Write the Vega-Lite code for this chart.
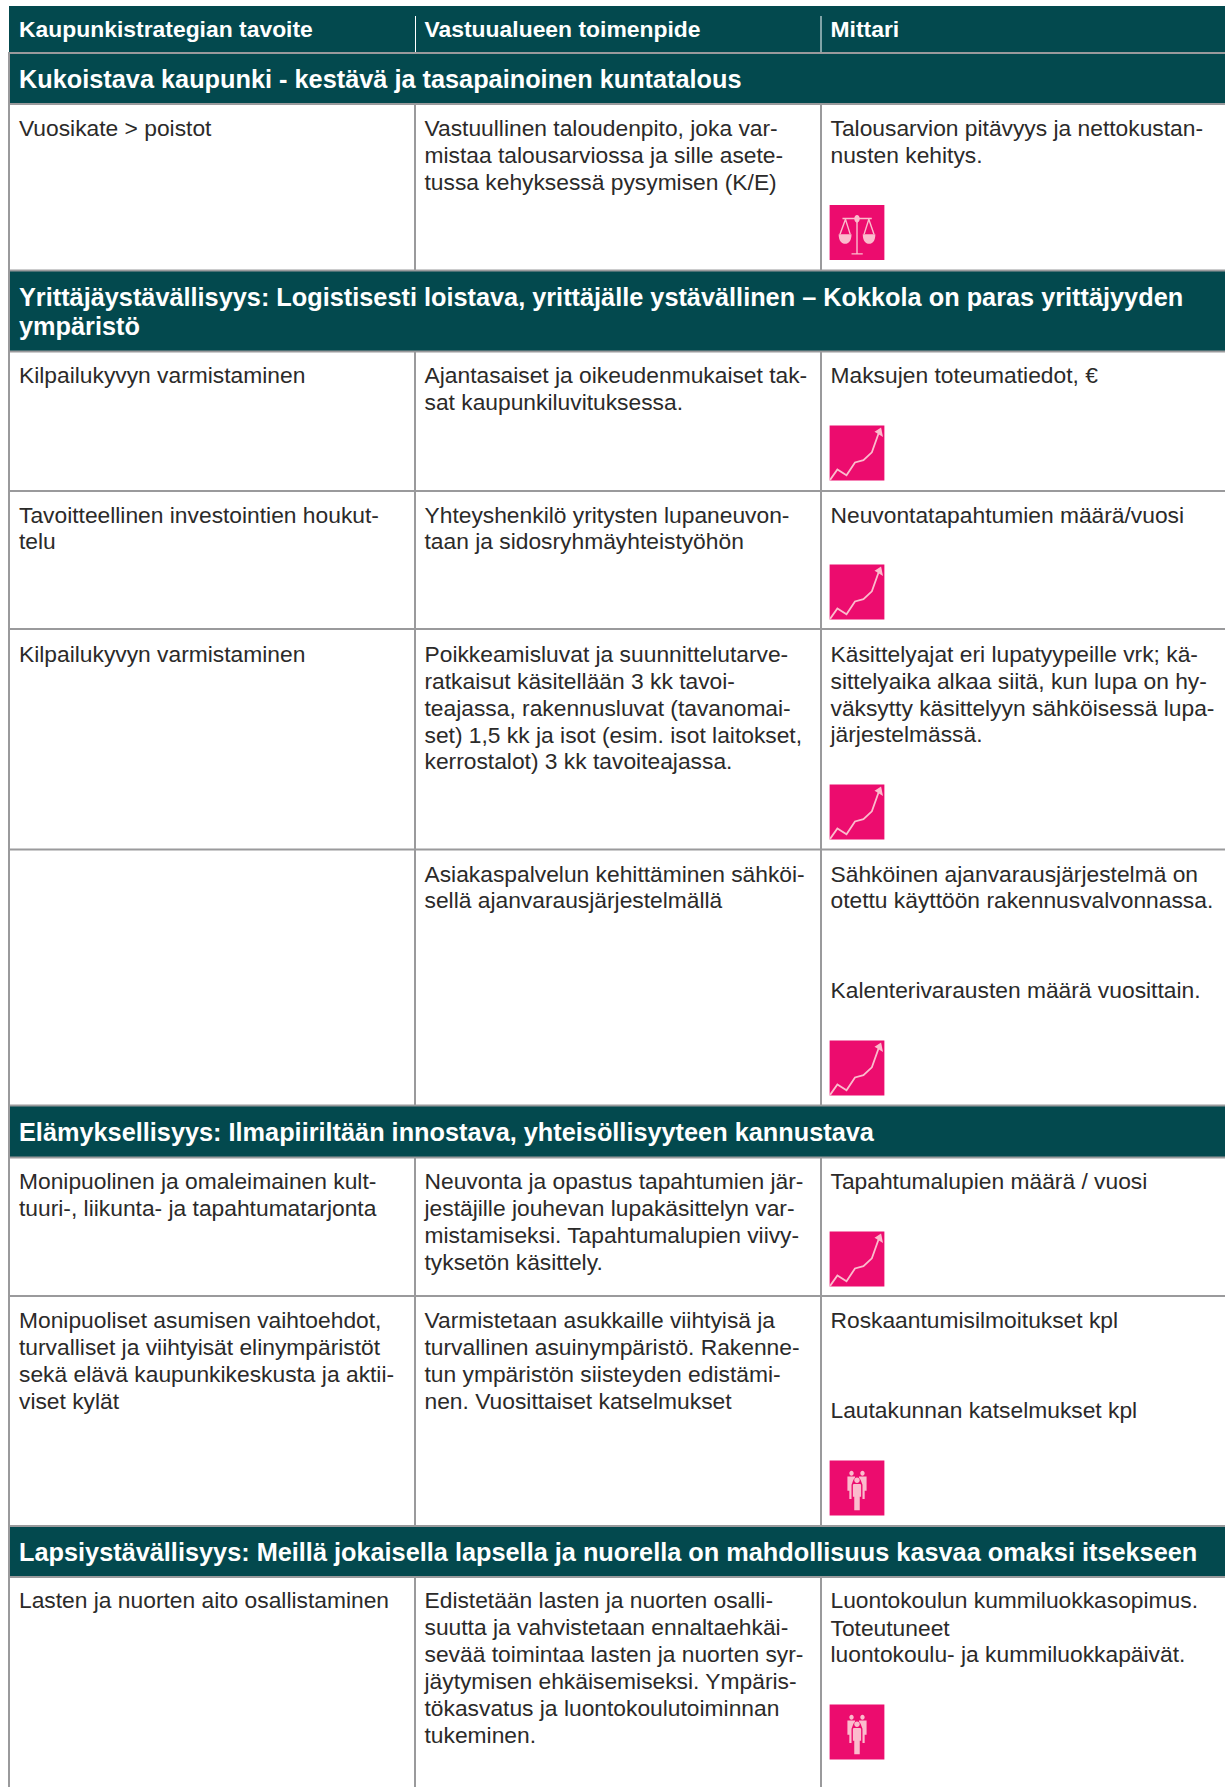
{"$schema":"https://vega.github.io/schema/vega-lite/v6.json","width":1225,"height":1787,"autosize":{"type":"fit","contains":"padding"},"padding":0,"background":"#ffffff","config":{"view":{"stroke":null}},
"datasets":{
"bands":[{"x":9,"x2":1225,"y":6,"y2":52},{"x":9,"x2":1225,"y":53,"y2":104},{"x":9,"x2":1225,"y":271,"y2":351},{"x":9,"x2":1225,"y":1106,"y2":1157},{"x":9,"x2":1225,"y":1526,"y2":1577}],
"gridlines":[{"x":9,"x2":9,"y":52,"y2":1787},{"x":415,"x2":415,"y":104,"y2":271},{"x":821,"x2":821,"y":104,"y2":271},{"x":415,"x2":415,"y":351,"y2":1105},{"x":821,"x2":821,"y":351,"y2":1105},{"x":415,"x2":415,"y":1157,"y2":1526},{"x":821,"x2":821,"y":1157,"y2":1526},{"x":415,"x2":415,"y":1577,"y2":1787},{"x":821,"x2":821,"y":1577,"y2":1787},
{"x":8,"x2":1225,"y":53,"y2":53},{"x":8,"x2":1225,"y":104,"y2":104},{"x":8,"x2":1225,"y":270.5,"y2":270.5},{"x":8,"x2":1225,"y":351.5,"y2":351.5},{"x":8,"x2":1225,"y":491,"y2":491},{"x":8,"x2":1225,"y":629,"y2":629},{"x":8,"x2":1225,"y":849.5,"y2":849.5},{"x":8,"x2":1225,"y":1105.5,"y2":1105.5},{"x":8,"x2":1225,"y":1157.5,"y2":1157.5},{"x":8,"x2":1225,"y":1296,"y2":1296},{"x":8,"x2":1225,"y":1526,"y2":1526},{"x":8,"x2":1225,"y":1577,"y2":1577}],
"headerlines":[{"x":415.5,"x2":415.5,"y":16,"y2":52},{"x":821,"x2":821,"y":16,"y2":52}],
"heads":[{"x":19,"y":37,"t":"Kaupunkistrategian tavoite"},{"x":424.5,"y":37,"t":"Vastuualueen toimenpide"},{"x":830.5,"y":37,"t":"Mittari"}],
"bandtitles":[{"x":19,"y":88,"t":"Kukoistava kaupunki - kestävä ja tasapainoinen kuntatalous"},{"x":19,"y":306,"t":"Yrittäjäystävällisyys: Logistisesti loistava, yrittäjälle ystävällinen – Kokkola on paras yrittäjyyden"},{"x":19,"y":335,"t":"ympäristö"},{"x":19,"y":1141,"t":"Elämyksellisyys: Ilmapiiriltään innostava, yhteisöllisyyteen kannustava"},{"x":19,"y":1561,"t":"Lapsiystävällisyys: Meillä jokaisella lapsella ja nuorella on mahdollisuus kasvaa omaksi itsekseen"}],
"cells":[
{"x":19,"y":137,"t":"Vuosikate > poistot"},
{"x":424.5,"y":137,"t":"Vastuullinen taloudenpito, joka var-"},{"x":424.5,"y":164,"t":"mistaa talousarviossa ja sille asete-"},{"x":424.5,"y":191,"t":"tussa kehyksessä pysymisen (K/E)"},
{"x":830.5,"y":137,"t":"Talousarvion pitävyys ja nettokustan-"},{"x":830.5,"y":164,"t":"nusten kehitys."},
{"x":19,"y":384,"t":"Kilpailukyvyn varmistaminen"},
{"x":424.5,"y":384,"t":"Ajantasaiset ja oikeudenmukaiset tak-"},{"x":424.5,"y":411,"t":"sat kaupunkiluvituksessa."},
{"x":830.5,"y":384,"t":"Maksujen toteumatiedot, €"},
{"x":19,"y":524,"t":"Tavoitteellinen investointien houkut-"},{"x":19,"y":550,"t":"telu"},
{"x":424.5,"y":524,"t":"Yhteyshenkilö yritysten lupaneuvon-"},{"x":424.5,"y":550,"t":"taan ja sidosryhmäyhteistyöhön"},
{"x":830.5,"y":524,"t":"Neuvontatapahtumien määrä/vuosi"},
{"x":19,"y":663,"t":"Kilpailukyvyn varmistaminen"},
{"x":424.5,"y":663,"t":"Poikkeamisluvat ja suunnittelutarve-"},{"x":424.5,"y":690,"t":"ratkaisut käsitellään 3 kk tavoi-"},{"x":424.5,"y":717,"t":"teajassa, rakennusluvat (tavanomai-"},{"x":424.5,"y":744,"t":"set) 1,5 kk ja isot (esim. isot laitokset,"},{"x":424.5,"y":770,"t":"kerrostalot) 3 kk tavoiteajassa."},
{"x":830.5,"y":663,"t":"Käsittelyajat eri lupatyypeille vrk; kä-"},{"x":830.5,"y":690,"t":"sittelyaika alkaa siitä, kun lupa on hy-"},{"x":830.5,"y":717,"t":"väksytty käsittelyyn sähköisessä lupa-"},{"x":830.5,"y":743,"t":"järjestelmässä."},
{"x":424.5,"y":883,"t":"Asiakaspalvelun kehittäminen sähköi-"},{"x":424.5,"y":909,"t":"sellä ajanvarausjärjestelmällä"},
{"x":830.5,"y":883,"t":"Sähköinen ajanvarausjärjestelmä on"},{"x":830.5,"y":909,"t":"otettu käyttöön rakennusvalvonnassa."},{"x":830.5,"y":999,"t":"Kalenterivarausten määrä vuosittain."},
{"x":19,"y":1190,"t":"Monipuolinen ja omaleimainen kult-"},{"x":19,"y":1217,"t":"tuuri-, liikunta- ja tapahtumatarjonta"},
{"x":424.5,"y":1190,"t":"Neuvonta ja opastus tapahtumien jär-"},{"x":424.5,"y":1217,"t":"jestäjille jouhevan lupakäsittelyn var-"},{"x":424.5,"y":1244,"t":"mistamiseksi. Tapahtumalupien viivy-"},{"x":424.5,"y":1271,"t":"tyksetön käsittely."},
{"x":830.5,"y":1190,"t":"Tapahtumalupien määrä / vuosi"},
{"x":19,"y":1329,"t":"Monipuoliset asumisen vaihtoehdot,"},{"x":19,"y":1356,"t":"turvalliset ja viihtyisät elinympäristöt"},{"x":19,"y":1383,"t":"sekä elävä kaupunkikeskusta ja aktii-"},{"x":19,"y":1410,"t":"viset kylät"},
{"x":424.5,"y":1329,"t":"Varmistetaan asukkaille viihtyisä ja"},{"x":424.5,"y":1356,"t":"turvallinen asuinympäristö. Rakenne-"},{"x":424.5,"y":1383,"t":"tun ympäristön siisteyden edistämi-"},{"x":424.5,"y":1410,"t":"nen. Vuosittaiset katselmukset"},
{"x":830.5,"y":1329,"t":"Roskaantumisilmoitukset kpl"},{"x":830.5,"y":1419,"t":"Lautakunnan katselmukset kpl"},
{"x":19,"y":1609,"t":"Lasten ja nuorten aito osallistaminen"},
{"x":424.5,"y":1609,"t":"Edistetään lasten ja nuorten osalli-"},{"x":424.5,"y":1636,"t":"suutta ja vahvistetaan ennaltaehkäi-"},{"x":424.5,"y":1663,"t":"sevää toimintaa lasten ja nuorten syr-"},{"x":424.5,"y":1690,"t":"jäytymisen ehkäisemiseksi. Ympäris-"},{"x":424.5,"y":1717,"t":"tökasvatus ja luontokoulutoiminnan"},{"x":424.5,"y":1744,"t":"tukeminen."},
{"x":830.5,"y":1609,"t":"Luontokoulun kummiluokkasopimus."},{"x":830.5,"y":1637,"t":"Toteutuneet"},{"x":830.5,"y":1663,"t":"luontokoulu- ja kummiluokkapäivät."}],
"icons":[{"x":857,"y":232.5,"k":"vaaka"},{"x":857,"y":453,"k":"kayra"},{"x":857,"y":592,"k":"kayra"},{"x":857,"y":812,"k":"kayra"},{"x":857,"y":1068,"k":"kayra"},{"x":857,"y":1259,"k":"kayra"},{"x":857,"y":1488,"k":"ihmiset"},{"x":857,"y":1732,"k":"ihmiset"}]
},
"layer":[
{"data":{"name":"bands"},"mark":{"type":"rect","color":"#03494e"},"encoding":{"x":{"field":"x","type":"quantitative","scale":{"domain":[0,1225],"range":[0,1225],"nice":false,"zero":false},"axis":null},"x2":{"field":"x2"},"y":{"field":"y","type":"quantitative","scale":{"domain":[0,1787],"range":[0,1787],"nice":false,"zero":false},"axis":null},"y2":{"field":"y2"}}},
{"data":{"name":"gridlines"},"mark":{"type":"rule","color":"#9a9a9c","strokeWidth":2},"encoding":{"x":{"field":"x","type":"quantitative"},"x2":{"field":"x2"},"y":{"field":"y","type":"quantitative"},"y2":{"field":"y2"}}},
{"data":{"name":"headerlines"},"mark":{"type":"rule","color":"#ffffff","strokeWidth":1},"encoding":{"x":{"field":"x","type":"quantitative"},"x2":{"field":"x2"},"y":{"field":"y","type":"quantitative"},"y2":{"field":"y2"}}},
{"data":{"name":"heads"},"mark":{"type":"text","font":"Liberation Sans","fontWeight":"bold","fontSize":22.9,"color":"#ffffff","align":"left","baseline":"alphabetic"},"encoding":{"x":{"field":"x","type":"quantitative"},"y":{"field":"y","type":"quantitative"},"text":{"field":"t"}}},
{"data":{"name":"bandtitles"},"mark":{"type":"text","font":"Liberation Sans","fontWeight":"bold","fontSize":25.3,"color":"#ffffff","align":"left","baseline":"alphabetic"},"encoding":{"x":{"field":"x","type":"quantitative"},"y":{"field":"y","type":"quantitative"},"text":{"field":"t"}}},
{"data":{"name":"cells"},"mark":{"type":"text","font":"Liberation Sans","fontSize":22.8,"color":"#2b2a29","align":"left","baseline":"alphabetic","dy":-0.6},"encoding":{"x":{"field":"x","type":"quantitative"},"y":{"field":"y","type":"quantitative"},"text":{"field":"t"}}},
{"data":{"name":"icons"},"mark":{"type":"point","shape":"square","filled":true,"opacity":1,"color":"#ec0c6e","size":3000},"encoding":{"x":{"field":"x","type":"quantitative"},"y":{"field":"y","type":"quantitative"}}},
{"data":{"name":"icons"},"mark":{"type":"point","filled":true,"opacity":1,"color":"#fbbccd","size":3000,"strokeWidth":0},"encoding":{"x":{"field":"x","type":"quantitative"},"y":{"field":"y","type":"quantitative"},"shape":{"field":"k","type":"nominal","legend":null,"scale":{"domain":["vaaka","kayra","ihmiset"],"range":[
"M-0.67,0.06L-0.2,0.06C-0.2,0.3 -0.31,0.41 -0.43,0.41C-0.56,0.41 -0.67,0.3 -0.67,0.06ZM0.21,0.06L0.67,0.06C0.67,0.3 0.57,0.41 0.44,0.41C0.32,0.41 0.21,0.3 0.21,0.06ZM-0.1,-0.5C-0.1,-0.58 -0.05,-0.64 0,-0.64C0.05,-0.64 0.1,-0.58 0.1,-0.5C0.1,-0.42 0.05,-0.36 0,-0.36C-0.05,-0.36 -0.1,-0.42 -0.1,-0.5Z",
"M0.88,-0.93L0.95,-0.58L0.64,-0.78Z",
"M-0.1,-0.28C-0.1,-0.34 -0.05,-0.38 0,-0.38C0.05,-0.38 0.1,-0.34 0.1,-0.28C0.1,-0.22 0.05,-0.18 0,-0.18C-0.05,-0.18 -0.1,-0.22 -0.1,-0.28ZM-0.12,-0.15L0.12,-0.15L0.15,-0.12L0.15,0.32L0.1,0.32L0.1,0.81L-0.1,0.81L-0.1,0.32L-0.15,0.32L-0.15,-0.12ZM-0.28,-0.54C-0.28,-0.59 -0.24,-0.63 -0.2,-0.63C-0.16,-0.63 -0.12,-0.59 -0.12,-0.54C-0.12,-0.49 -0.16,-0.45 -0.2,-0.45C-0.24,-0.45 -0.28,-0.49 -0.28,-0.54ZM0.12,-0.54C0.12,-0.59 0.16,-0.63 0.2,-0.63C0.24,-0.63 0.28,-0.59 0.28,-0.54C0.28,-0.49 0.24,-0.45 0.2,-0.45C0.16,-0.45 0.12,-0.49 0.12,-0.54ZM-0.35,-0.42L-0.07,-0.42L-0.07,-0.38L-0.13,-0.3L-0.2,-0.12L-0.2,0.4L-0.28,0.4L-0.28,0.1L-0.35,0.1ZM0.07,-0.42L0.35,-0.42L0.35,0.1L0.28,0.1L0.28,0.4L0.2,0.4L0.2,-0.12L0.13,-0.3L0.07,-0.38Z"]}}}},
{"data":{"name":"icons"},"mark":{"type":"point","filled":false,"opacity":1,"color":"#fbbccd","size":3000},"encoding":{"x":{"field":"x","type":"quantitative"},"y":{"field":"y","type":"quantitative"},"strokeWidth":{"field":"k","type":"nominal","legend":null,"scale":{"domain":["vaaka","kayra","ihmiset"],"range":[1.4,2.2,0]}},"shape":{"field":"k","type":"nominal","legend":null,"scale":{"domain":["vaaka","kayra","ihmiset"],"range":[
"M0,-0.48L0,0.78M-0.2,0.78L0.21,0.78M-0.53,-0.51L0.54,-0.51M-0.42,-0.48L-0.62,0.06M-0.42,-0.48L-0.25,0.06M0.43,-0.48L0.26,0.06M0.43,-0.48L0.62,0.06",
"M-0.99,0.99L-0.716,0.605L-0.383,0.815L-0.074,0.346L0.235,0.26L0.543,-0.025L0.79,-0.72",
"M0,0L0,0"]}}}}
],
"resolve":{"scale":{"shape":"independent"}}}
